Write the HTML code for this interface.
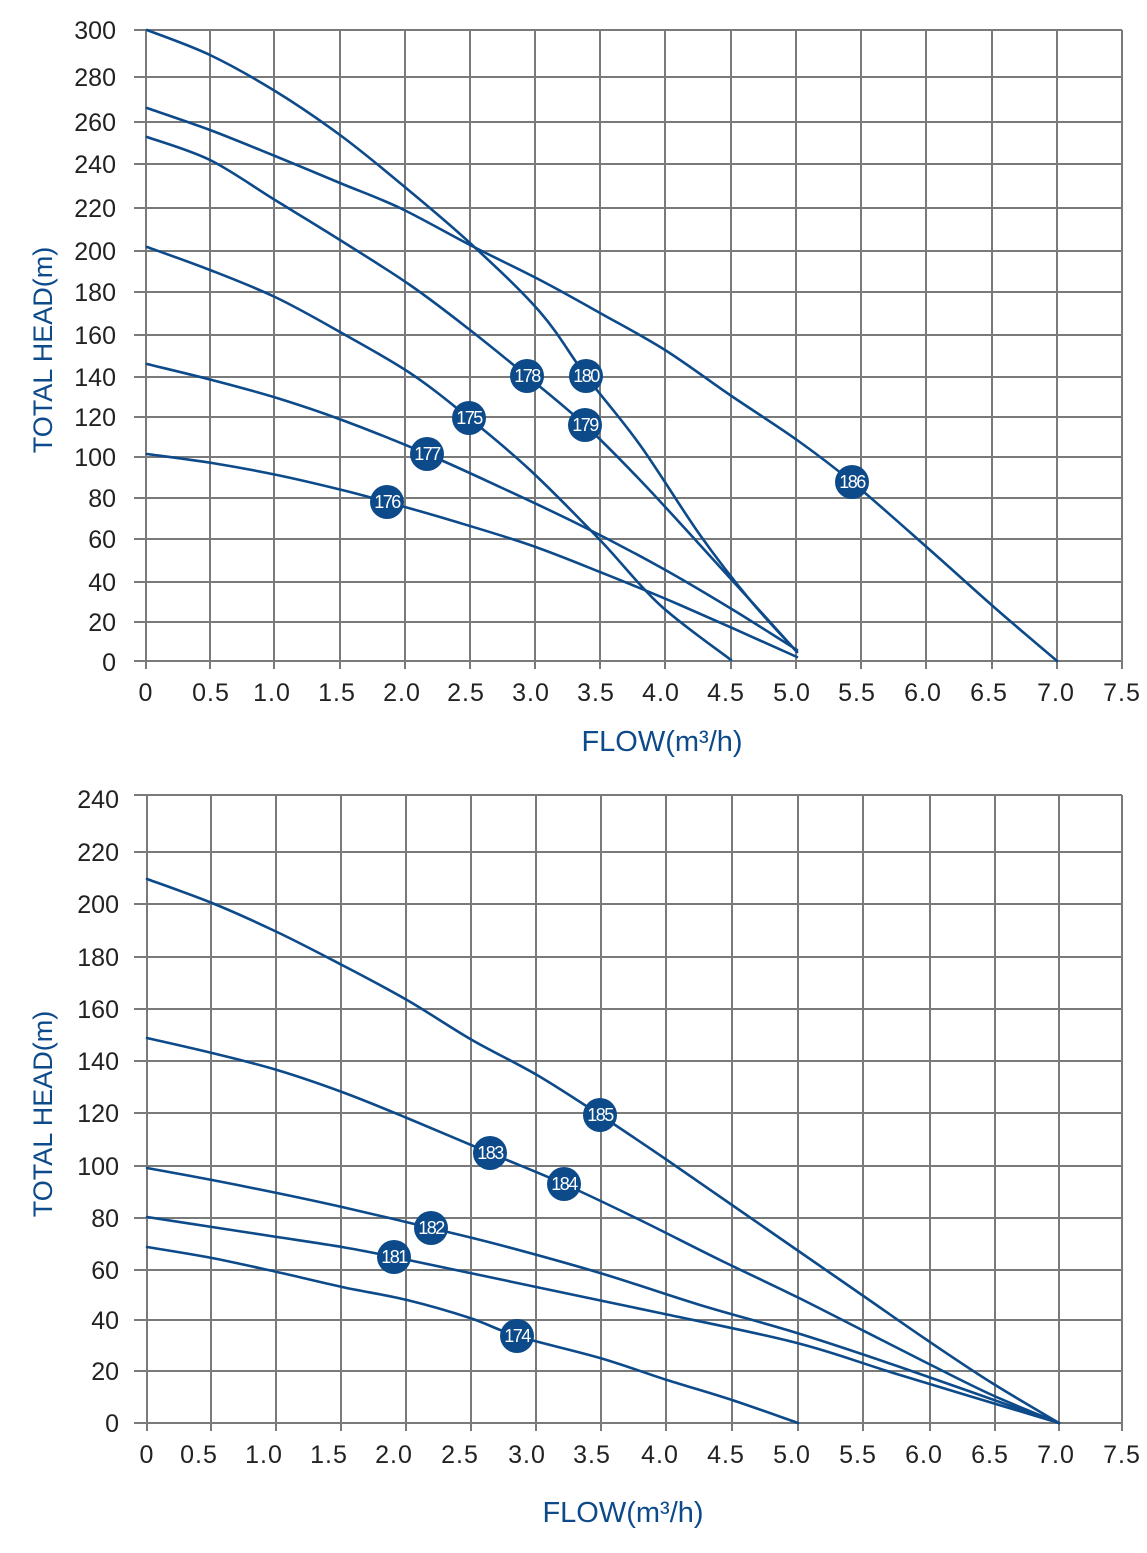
<!DOCTYPE html>
<html><head><meta charset="utf-8"><style>
html,body{margin:0;padding:0;background:#fff;}
svg{display:block;}
text{font-family:"Liberation Sans",sans-serif;}
</style></head><body>
<svg id="s" width="1147" height="1553" viewBox="0 0 1147 1553" xmlns="http://www.w3.org/2000/svg">
<g stroke="#7a7a7a" stroke-width="2" fill="none">
<path d="M134 30H1122M134 77H1122M134 122H1122M134 164H1122M134 208H1122M134 251H1122M134 292H1122M134 335H1122M134 377H1122M134 417H1122M134 457H1122M134 498H1122M134 539H1122M134 582H1122M134 622H1122M134 661H1122"/>
<path d="M146 30V669M210 30V669M274 30V669M340 30V669M405 30V669M470 30V669M535 30V669M600 30V669M665 30V669M731 30V669M796 30V669M861 30V669M926 30V669M992 30V669M1057 30V669M1122 30V669"/>
<path d="M134 795H1122M134 852H1122M134 904H1122M134 957H1122M134 1009H1122M134 1061H1122M134 1113H1122M134 1166H1122M134 1218H1122M134 1270H1122M134 1320H1122M134 1371H1122M134 1423H1122"/>
<path d="M147 795V1431M211 795V1431M276 795V1431M341 795V1431M406 795V1431M471 795V1431M536 795V1431M601 795V1431M666 795V1431M732 795V1431M798 795V1431M863 795V1431M930 795V1431M995 795V1431M1059 795V1431M1122 795V1431"/>
</g>
<g id="curves" stroke="#0d4a8a" stroke-width="2.6" fill="none" stroke-linejoin="round" stroke-linecap="round">
<polyline points="147,30 210,55 275,91 340,135 400,183 470,243 540,312 586,376 640,445 700,535 750,600 797,652"/>
<polyline points="147,108 210,130 275,156 340,183 400,208 470,245 540,280 600,313 665,350 730,395 797,440 852,482 930,550 995,608 1057,661"/>
<polyline points="147,137 210,160 275,200 340,240 410,285 470,330 527,376 585,425 640,480 700,545 750,600 797,652"/>
<polyline points="147,247 210,270 275,297 340,332 410,373 469,418 530,470 600,540 660,605 731,660"/>
<polyline points="147,364 212,380 277,398 342,420 427,454 500,487 580,525 660,567 730,608 797,650"/>
<polyline points="147,454 212,463 277,475 342,490 387,502 450,520 530,545 600,572 680,605 797,657"/>
<polyline points="147,879 212,903 277,932 342,965 407,1000 472,1040 537,1075 600,1115 667,1160 732,1205 797,1250 862,1295 927,1340 992,1383 1059,1423"/>
<polyline points="147,1038 212,1053 277,1070 342,1092 407,1118 490,1153 564,1184 640,1220 720,1260 797,1297 862,1330 927,1363 992,1395 1059,1423"/>
<polyline points="147,1168 212,1180 277,1193 342,1207 431,1228 500,1245 600,1273 700,1305 797,1333 900,1367 1059,1423"/>
<polyline points="147,1217 212,1227 277,1237 342,1247 394,1257 470,1273 560,1292 660,1313 797,1343 900,1375 1059,1423"/>
<polyline points="147,1247 212,1258 277,1272 342,1287 407,1300 470,1318 517,1336 600,1358 667,1380 732,1400 798,1423"/>
</g>
<g fill="#0d4a8a">
<circle cx="586" cy="376" r="17"/><circle cx="527" cy="376" r="17"/><circle cx="585" cy="425" r="17"/>
<circle cx="469" cy="418" r="17"/><circle cx="427" cy="454" r="17"/><circle cx="387" cy="502" r="17"/>
<circle cx="852" cy="482" r="17"/>
<circle cx="600" cy="1115" r="17"/><circle cx="490" cy="1153" r="17"/><circle cx="564" cy="1184" r="17"/>
<circle cx="431" cy="1228" r="17"/><circle cx="394" cy="1257" r="17"/><circle cx="517" cy="1336" r="17"/>
</g>
<g fill="#fff" font-size="18" text-anchor="middle" letter-spacing="-1.5">
<text x="586" y="382">180</text><text x="527" y="382">178</text><text x="585" y="431">179</text>
<text x="469" y="424">175</text><text x="427" y="460">177</text><text x="387" y="508">176</text>
<text x="852" y="488">186</text>
<text x="600" y="1121">185</text><text x="490" y="1159">183</text><text x="564" y="1190">184</text>
<text x="431" y="1234">182</text><text x="394" y="1263">181</text><text x="517" y="1342">174</text>
</g>
<g fill="#222" font-size="25" text-anchor="end">
<text x="116" y="39">300</text><text x="116" y="86">280</text><text x="116" y="131">260</text><text x="116" y="173">240</text>
<text x="116" y="217">220</text><text x="116" y="260">200</text><text x="116" y="301">180</text><text x="116" y="344">160</text>
<text x="116" y="386">140</text><text x="116" y="426">120</text><text x="116" y="466">100</text><text x="116" y="507">80</text>
<text x="116" y="548">60</text><text x="116" y="591">40</text><text x="116" y="631">20</text><text x="116" y="671">0</text>
<text x="119" y="808">240</text><text x="119" y="861">220</text><text x="119" y="913">200</text><text x="119" y="966">180</text>
<text x="119" y="1018">160</text><text x="119" y="1070">140</text><text x="119" y="1122">120</text><text x="119" y="1175">100</text>
<text x="119" y="1227">80</text><text x="119" y="1279">60</text><text x="119" y="1329">40</text><text x="119" y="1380">20</text>
<text x="119" y="1432">0</text>
</g>
<g fill="#222" font-size="25" text-anchor="middle" letter-spacing="1">
<text x="146" y="701">0</text><text x="211" y="701">0.5</text><text x="272" y="701">1.0</text><text x="337" y="701">1.5</text>
<text x="402" y="701">2.0</text><text x="466" y="701">2.5</text><text x="531" y="701">3.0</text><text x="596" y="701">3.5</text>
<text x="661" y="701">4.0</text><text x="726" y="701">4.5</text><text x="792" y="701">5.0</text><text x="857" y="701">5.5</text>
<text x="923" y="701">6.0</text><text x="989" y="701">6.5</text><text x="1056" y="701">7.0</text><text x="1122" y="701">7.5</text>
<text x="147" y="1463">0</text><text x="199" y="1463">0.5</text><text x="264" y="1463">1.0</text><text x="329" y="1463">1.5</text>
<text x="394" y="1463">2.0</text><text x="460" y="1463">2.5</text><text x="527" y="1463">3.0</text><text x="592" y="1463">3.5</text>
<text x="660" y="1463">4.0</text><text x="726" y="1463">4.5</text><text x="792" y="1463">5.0</text><text x="858" y="1463">5.5</text>
<text x="924" y="1463">6.0</text><text x="990" y="1463">6.5</text><text x="1056" y="1463">7.0</text><text x="1122" y="1463">7.5</text>
</g>
<g fill="#0d4a8a" font-size="29">
<text x="662" y="751" text-anchor="middle">FLOW(m³/h)</text>
<text x="623" y="1522" text-anchor="middle">FLOW(m³/h)</text>
<text transform="translate(52,350) rotate(-90)" text-anchor="middle" font-size="27">TOTAL HEAD(m)</text>
<text transform="translate(52,1114) rotate(-90)" text-anchor="middle" font-size="27">TOTAL HEAD(m)</text>
</g>
</svg>
<script>
(function(){
var g=document.getElementById('curves');
var pls=g.querySelectorAll('polyline');
for(var k=0;k<pls.length;k++){
var pl=pls[k];
var p=pl.getAttribute('points').trim().split(/\s+/).map(function(s){var a=s.split(',');return [+a[0],+a[1]];});
var d='M'+p[0][0]+' '+p[0][1];
for(var i=0;i<p.length-1;i++){
var p0=p[i-1]||p[i],p1=p[i],p2=p[i+1],p3=p[i+2]||p2;
var c1x=p1[0]+(p2[0]-p0[0])/6,c1y=p1[1]+(p2[1]-p0[1])/6;
var c2x=p2[0]-(p3[0]-p1[0])/6,c2y=p2[1]-(p3[1]-p1[1])/6;
d+='C'+c1x.toFixed(1)+' '+c1y.toFixed(1)+' '+c2x.toFixed(1)+' '+c2y.toFixed(1)+' '+p2[0]+' '+p2[1];
}
var path=document.createElementNS('http://www.w3.org/2000/svg','path');
path.setAttribute('d',d);
g.replaceChild(path,pl);
}
})();
</script>
</body></html>
